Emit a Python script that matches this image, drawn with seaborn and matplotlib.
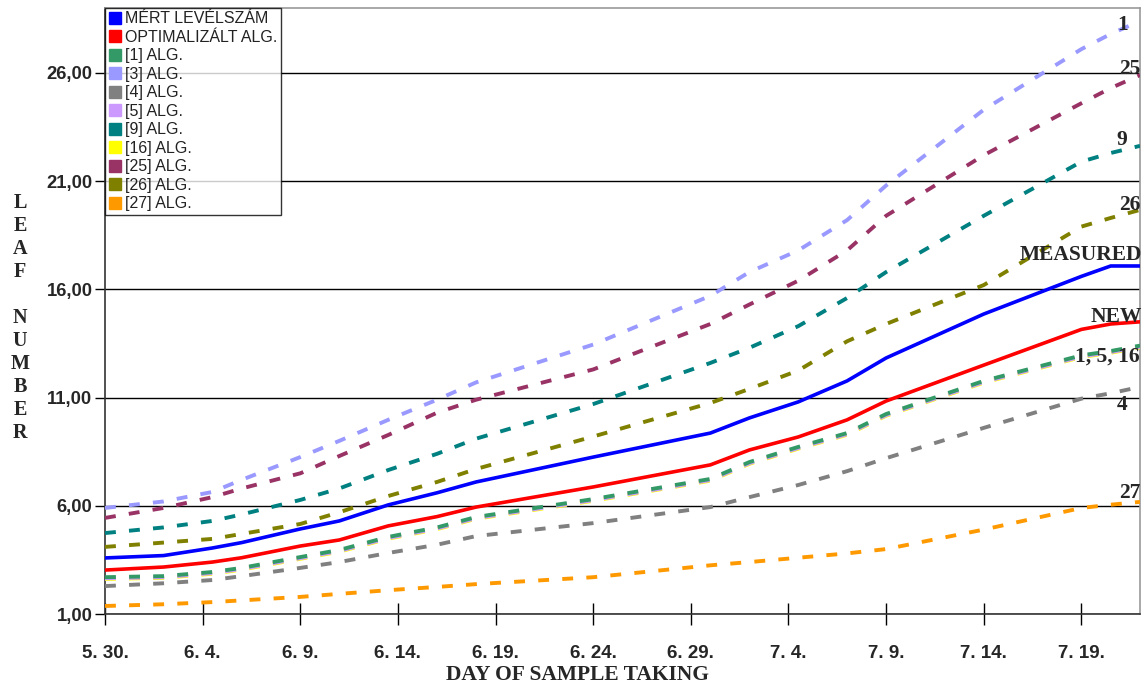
import matplotlib
matplotlib.use("Agg")
import matplotlib.pyplot as plt
from matplotlib.lines import Line2D
import seaborn as sns
import pandas as pd

days = [0, 3, 5.5, 7, 10, 12, 14.5, 17, 19, 25, 31, 33, 35.5, 38, 40, 45, 50, 51.5, 53]
tick_days = [0, 5, 10, 15, 20, 25, 30, 35, 40, 45, 50]
tick_labels = ["5. 30.", "6. 4.", "6. 9.", "6. 14.", "6. 19.", "6. 24.", "6. 29.",
               "7. 4.", "7. 9.", "7. 14.", "7. 19."]
y_ticks = [1, 6, 11, 16, 21, 26]

measured = [3.59, 3.7, 4.05, 4.3, 4.93, 5.3, 6.04, 6.6, 7.1, 8.25, 9.36, 10.06, 10.8, 11.77, 12.83, 14.86, 16.6, 17.08, 17.08]
optimized = [3.03, 3.17, 3.4, 3.6, 4.14, 4.42, 5.07, 5.5, 5.94, 6.87, 7.89, 8.58, 9.18, 9.97, 10.84, 12.5, 14.15, 14.4, 14.5]
alg1 = [2.7, 2.75, 2.94, 3.13, 3.63, 3.96, 4.56, 5.0, 5.48, 6.31, 7.24, 8.02, 8.72, 9.36, 10.24, 11.77, 12.95, 13.15, 13.4]
alg3 = [5.9, 6.2, 6.64, 7.2, 8.25, 9.0, 9.97, 10.9, 11.7, 13.45, 15.7, 16.8, 17.8, 19.2, 20.8, 24.3, 27.1, 27.8, 28.4]
alg4 = [2.29, 2.42, 2.57, 2.75, 3.13, 3.4, 3.82, 4.2, 4.6, 5.2, 5.94, 6.4, 6.96, 7.6, 8.2, 9.6, 10.95, 11.2, 11.49]
alg5 = [2.65, 2.7, 2.89, 3.08, 3.58, 3.91, 4.51, 4.95, 5.43, 6.26, 7.19, 7.97, 8.67, 9.31, 10.19, 11.72, 12.9, 13.1, 13.35]
alg9 = [4.74, 5.0, 5.3, 5.6, 6.27, 6.8, 7.65, 8.4, 9.1, 10.7, 12.6, 13.3, 14.3, 15.6, 16.8, 19.4, 21.9, 22.3, 22.63]
alg16 = [2.62, 2.67, 2.86, 3.05, 3.55, 3.88, 4.48, 4.92, 5.4, 6.23, 7.16, 7.94, 8.64, 9.28, 10.16, 11.69, 12.87, 13.07, 13.32]
alg25 = [5.44, 5.9, 6.4, 6.8, 7.5, 8.3, 9.27, 10.3, 10.9, 12.3, 14.4, 15.3, 16.4, 17.8, 19.4, 22.2, 24.6, 25.3, 25.9]
alg26 = [4.1, 4.3, 4.47, 4.7, 5.16, 5.7, 6.45, 7.1, 7.7, 9.2, 10.75, 11.4, 12.25, 13.6, 14.4, 16.2, 18.9, 19.3, 19.67]
alg27 = [1.37, 1.45, 1.55, 1.63, 1.79, 1.93, 2.1, 2.25, 2.38, 2.7, 3.25, 3.4, 3.6, 3.8, 4.0, 4.9, 5.9, 6.05, 6.18]

series_names = ["MÉRT LEVÉLSZÁM", "OPTIMALIZÁLT ALG.", "[1] ALG.", "[3] ALG.", "[4] ALG.",
                "[5] ALG.", "[9] ALG.", "[16] ALG.", "[25] ALG.", "[26] ALG.", "[27] ALG."]
series_values = [measured, optimized, alg1, alg3, alg4, alg5, alg9, alg16, alg25, alg26, alg27]
colors = ["#0000FF", "#FF0000", "#339966", "#9999FF", "#808080", "#CC99FF",
          "#008080", "#FFFF00", "#993366", "#808000", "#FF9900"]

end_labels = ["1", "25", "9", "26", "MEASURED", "NEW", "1, 5, 16", "4", "27"]
end_label_y = [28.2, 26.2, 22.9, 19.9, 17.6, 14.7, 12.9, 10.66, 6.6]
end_label_x = [0.988, 1.0, 0.988, 1.0, 1.002, 1.002, 1.0, 0.988, 1.0]

sns.set_style("white")
plt.rcParams["font.family"] = ["Liberation Sans", "DejaVu Sans"]

fig = plt.figure(figsize=(11.45, 6.86), dpi=100)
ax = fig.add_axes([105 / 1145, 1 - 614 / 686, (1140 - 105) / 1145, (614 - 8) / 686])

for yv in y_ticks:
    ax.axhline(yv, color="black", lw=1.0, zorder=1)

draw_order = [7, 5, 2, 4, 10, 9, 6, 8, 3, 1, 0]
for i in draw_order:
    df = pd.DataFrame({"day": days, "value": series_values[i]})
    if i in (0, 1):
        sns.lineplot(data=df, x="day", y="value", ax=ax, color=colors[i], lw=2.6,
                     legend=False, zorder=5)
    else:
        sns.lineplot(data=df, x="day", y="value", ax=ax, color=colors[i], lw=2.8,
                     linestyle=(0, (2.8, 3.4)), legend=False, zorder=3)

ax.set_xlim(0, 53)
ax.set_ylim(1, 29)
ax.set_xticks(tick_days)
ax.set_xticklabels(tick_labels, fontsize=13.5, fontweight="bold")
ax.set_yticks(y_ticks)
ax.set_yticklabels([f"{v:.2f}".replace(".", ",") for v in y_ticks], fontsize=13.3, fontweight="bold")
ax.tick_params(axis="x", bottom=True, direction="inout", length=16, width=1, pad=14, color="black")
ax.tick_params(axis="y", left=True, direction="out", length=7, width=1, pad=2, color="black")

ax.set_xlabel("DAY OF SAMPLE TAKING", family="Liberation Serif", fontweight="bold",
              fontsize=15.5)
ax.xaxis.set_label_coords((578 - 105) / 1035, (614 - 675) / 606)
ax.xaxis.label.set_va("center")
ax.set_ylabel("L\nE\nA\nF\n\nN\nU\nM\nB\nE\nR", family="Liberation Serif",
              fontweight="bold", fontsize=14.5, rotation=0, linespacing=1.2,
              va="center", ha="center")
ax.yaxis.set_label_coords((20 - 105) / 1035, (614 - 318) / 606)

for sp in ["left", "bottom"]:
    ax.spines[sp].set_color("#333333")
    ax.spines[sp].set_linewidth(1.2)
for sp in ["top", "right"]:
    ax.spines[sp].set_color("#999999")
    ax.spines[sp].set_linewidth(1.2)

for txt, yv, xv in zip(end_labels, end_label_y, end_label_x):
    ax.text(xv, yv, txt, transform=ax.get_yaxis_transform(), ha="right", va="center",
            family="Liberation Serif", fontweight="bold", fontsize=15.5, zorder=6)

handles = [Line2D([0], [0], marker="s", linestyle="none", markersize=8,
                  markerfacecolor=c, markeredgecolor=c) for c in colors]
leg = ax.legend(handles, series_names, loc="upper left", bbox_to_anchor=(0, 1),
                borderaxespad=0, fontsize=11.5, frameon=True, fancybox=False,
                handletextpad=0.15, labelspacing=0.22, borderpad=0.2,
                handlelength=0.9, edgecolor="black")
leg.get_frame().set_linewidth(1.0)
leg.set_zorder(10)
for t in leg.get_texts():
    t.set_color("#222222")

fig.savefig("out.png", dpi=100)
